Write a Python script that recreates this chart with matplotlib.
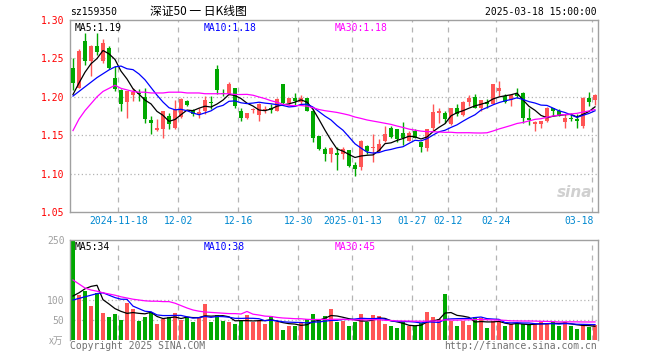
import numpy as np
import matplotlib.pyplot as plt

# daily candles 2024-11-06 .. 2025-03-18 (88 trading days)
opens = [1.237, 1.212, 1.2726, 1.2466, 1.2661, 1.2466, 1.2639, 1.2249, 1.2085, 1.1937,
         1.2024, 1.205, 1.2003, 1.1695, 1.1565, 1.158, 1.175, 1.160, 1.174, 1.1946,
         1.1825, 1.178, 1.181, 1.1937, 1.2358, 1.205, 1.203, 1.211, 1.1816, 1.172,
         1.1829, 1.1764, 1.1834, 1.186, 1.1816, 1.2163, 1.1925, 1.198, 1.1937, 1.198,
         1.1816, 1.1487, 1.1323, 1.1254, 1.1267, 1.1254, 1.1305, 1.1115, 1.108, 1.1362,
         1.1335, 1.1288, 1.1418, 1.1591, 1.1578, 1.1535, 1.1427, 1.1557, 1.1405, 1.1331,
         1.1591, 1.179, 1.1795, 1.1643, 1.1851, 1.1764, 1.1937, 1.1998, 1.186, 1.1937,
         1.1912, 1.2076, 1.2011, 1.1955, 1.2033, 1.205, 1.1721, 1.1643, 1.1643, 1.1686,
         1.1851, 1.181, 1.1678, 1.173, 1.1708, 1.1621, 1.198, 1.1955]
highs = [1.251, 1.262, 1.283, 1.268, 1.283, 1.275, 1.266, 1.240, 1.210, 1.208,
         1.212, 1.210, 1.211, 1.175, 1.171, 1.182, 1.179, 1.1955, 1.198, 1.1955,
         1.184, 1.186, 1.201, 1.201, 1.242, 1.210, 1.219, 1.212, 1.186, 1.179,
         1.186, 1.192, 1.188, 1.190, 1.198, 1.2163, 1.199, 1.205, 1.202, 1.198,
         1.184, 1.1487, 1.134, 1.134, 1.134, 1.134, 1.131, 1.1145, 1.1435, 1.137,
         1.1513, 1.1448, 1.162, 1.162, 1.1578, 1.1678, 1.1557, 1.158, 1.141, 1.158,
         1.1903, 1.185, 1.181, 1.1851, 1.190, 1.1946, 1.2024, 1.2033, 1.196, 1.197,
         1.2163, 1.2206, 1.204, 1.203, 1.211, 1.2067, 1.185, 1.169, 1.169, 1.187,
         1.186, 1.184, 1.177, 1.179, 1.177, 1.200, 1.2067, 1.204]
lows = [1.209, 1.211, 1.242, 1.227, 1.255, 1.244, 1.236, 1.208, 1.182, 1.172,
        1.195, 1.194, 1.1665, 1.152, 1.1557, 1.146, 1.158, 1.158, 1.173, 1.188,
        1.175, 1.172, 1.178, 1.184, 1.204, 1.201, 1.202, 1.185, 1.168, 1.171,
        1.179, 1.168, 1.179, 1.179, 1.181, 1.190, 1.191, 1.1895, 1.190, 1.181,
        1.1405, 1.131, 1.117, 1.1145, 1.1045, 1.119, 1.109, 1.0972, 1.1045, 1.125,
        1.1145, 1.1275, 1.1405, 1.147, 1.1405, 1.137, 1.142, 1.146, 1.128, 1.129,
        1.1557, 1.1665, 1.1665, 1.163, 1.175, 1.175, 1.188, 1.185, 1.1816, 1.185,
        1.190, 1.2011, 1.192, 1.188, 1.199, 1.1665, 1.163, 1.155, 1.160, 1.1678,
        1.1751, 1.175, 1.159, 1.168, 1.159, 1.160, 1.188, 1.1894]
closes = [1.218, 1.2596, 1.2466, 1.2661, 1.2587, 1.2704, 1.2379, 1.2098, 1.1903, 1.2076,
          1.2067, 1.203, 1.1708, 1.1656, 1.159, 1.181, 1.164, 1.1825, 1.197, 1.189,
          1.1773, 1.180, 1.1955, 1.1916, 1.2085, 1.203, 1.217, 1.188, 1.172, 1.1786,
          1.1842, 1.1911, 1.1838, 1.183, 1.1968, 1.1925, 1.198, 1.195, 1.198, 1.1816,
          1.1461, 1.1318, 1.1254, 1.133, 1.1241, 1.1318, 1.1102, 1.1059, 1.1427, 1.1288,
          1.134, 1.1383, 1.1513, 1.1478, 1.1448, 1.1461, 1.1535, 1.147, 1.134, 1.1578,
          1.1808, 1.1816, 1.1708, 1.1851, 1.1782, 1.1937, 1.198, 1.186, 1.1955, 1.190,
          1.2163, 1.2111, 1.1937, 1.2020, 1.2007, 1.1721, 1.1695, 1.1678, 1.1686, 1.186,
          1.1816, 1.1751, 1.1721, 1.171, 1.1686, 1.1989, 1.1937, 1.2024]
# volume in 10k units
volumes = [248, 112, 122, 84, 118, 68, 58, 64, 50, 93,
           78, 48, 58, 70, 40, 52, 58, 68, 50, 58,
           46, 58, 90, 46, 62, 48, 44, 40, 48, 62,
           44, 48, 40, 60, 44, 25, 35, 35, 44, 52,
           64, 52, 60, 78, 46, 48, 34, 46, 64, 44,
           62, 60, 40, 35, 30, 44, 35, 34, 42, 70,
           58, 52, 115, 48, 35, 48, 37, 57, 54, 30,
           48, 44, 35, 40, 40, 40, 37, 40, 46, 40,
           46, 35, 46, 35, 28, 38, 33, 38]

ma5_head = [1.203, 1.218, 1.232, 1.243]
ma10_head = [1.201, 1.207, 1.213, 1.219, 1.225, 1.230, 1.235, 1.239, 1.240]
ma30_head = [1.156, 1.171, 1.182, 1.191, 1.200, 1.207, 1.211, 1.215, 1.211, 1.209,
             1.207, 1.206, 1.206, 1.205, 1.205, 1.205, 1.206, 1.206, 1.206, 1.205,
             1.205, 1.205, 1.204, 1.204, 1.204, 1.204, 1.204, 1.203, 1.203]
vma5_head = [110, 118, 128, 134]
vma10_head = [100, 104, 108, 112, 116, 118, 112, 106, 102]
vma30_head = [150, 140, 130, 125, 122, 118, 115, 112, 108, 105,
              102, 100, 98, 97, 97, 96, 96, 92, 86, 80,
              75, 72, 70, 69, 68, 67, 66, 66, 65]

tick_labels = ["2024-11-18", "12-02", "12-16", "12-30", "2025-01-13",
               "01-27", "02-12", "02-24", "03-18"]
tick_idx = [8, 18, 28, 38, 47, 57, 63, 71, 87]


def moving_avg(vals, n, head):
    out = list(head)
    for i in range(len(head), len(vals)):
        out.append(np.mean(vals[i - n + 1:i + 1]))
    return np.array(out)


RED = "#FF5555"
GREEN = "#00A800"
MONO = "DejaVu Sans Mono"
CJK = ["Noto Sans CJK SC", "DejaVu Sans"]

x = np.arange(len(closes))
o, h, l, c = map(np.array, (opens, highs, lows, closes))
up = c >= o
colors = np.where(up, RED, GREEN)

fig = plt.figure(figsize=(6.6, 3.6), dpi=100)
ax = fig.add_axes([70 / 660, 1 - 212 / 360, 528 / 660, 192 / 360])
vax = fig.add_axes([70 / 660, 1 - 340 / 360, 528 / 660, 100 / 360])

for a in (ax, vax):
    a.set_xlim(-0.5, len(x) - 0.5)
    for s in a.spines.values():
        s.set_color("#A0A0A0")
        s.set_linewidth(1.0)
    a.tick_params(length=0)
    a.set_xticks([])
    for t in tick_idx:
        a.axvline(t - 0.45, color="#B4B4B4", lw=0.9, ls=(0, (4, 4)), zorder=0)
vax.spines["bottom"].set_visible(False)

# price panel
ax.set_ylim(1.05, 1.30)
ax.set_yticks([1.05, 1.10, 1.15, 1.20, 1.25, 1.30])
ax.set_yticklabels(["1.05", "1.10", "1.15", "1.20", "1.25", "1.30"],
                   color="red", fontsize=7, family=MONO)
ax.tick_params(axis="y", pad=4)
for yv in [1.10, 1.15, 1.20, 1.25]:
    ax.axhline(yv, color="#B4B4B4", lw=0.9, ls=(0, (1, 2)), zorder=0)

ax.vlines(x, l, h, colors=colors, lw=1.0, zorder=2)
body = np.maximum(np.abs(c - o), 0.0009)
ax.bar(x, body, bottom=np.minimum(o, c), width=0.78, color=colors, lw=0, zorder=3)

ma5 = moving_avg(closes, 5, ma5_head)
ma10 = moving_avg(closes, 10, ma10_head)
ma30 = moving_avg(closes, 30, ma30_head)
ax.plot(x, ma5, color="black", lw=0.9, zorder=4)
ax.plot(x, ma10, color="blue", lw=0.9, zorder=4)
ax.plot(x, ma30, color="#FF00FF", lw=0.9, zorder=4)

ax.text(5 / 528, 0.985, f"MA5:{ma5[-1]:.2f}", transform=ax.transAxes, ha="left", va="top",
        fontsize=7, family=MONO, color="black")
ax.text(134 / 528, 0.985, f"MA10:{ma10[-1]:.2f}", transform=ax.transAxes, ha="left", va="top",
        fontsize=7, family=MONO, color="blue")
ax.text(265 / 528, 0.985, f"MA30:{ma30[-1]:.2f}", transform=ax.transAxes, ha="left", va="top",
        fontsize=7, family=MONO, color="#FF00FF")
ax.text(0.99, 0.06, "sina", transform=ax.transAxes, ha="right", va="bottom",
        fontsize=11, style="italic", weight="bold", color="#D0D0D0", zorder=1)

for t, lab in zip(tick_idx, tick_labels):
    ha = "right" if t == tick_idx[-1] else "center"
    xx = t - 0.2 if ha == "right" else t - 0.45
    ax.text(xx, 1.05 - 0.0115, lab, ha=ha, va="center", fontsize=7, family=MONO,
            color="#0088D0")

# volume panel
vax.set_ylim(0, 250)
vax.set_yticks([50, 100, 250])
vax.set_yticklabels(["50", "100", "250"], color="#A0A0A0", fontsize=7, family=MONO)
vax.tick_params(axis="y", pad=4)
for yv in [50, 100]:
    vax.axhline(yv, color="#B4B4B4", lw=0.9, ls=(0, (1, 2)), zorder=0)
vax.bar(x, volumes, width=0.78, color=colors, lw=0, zorder=2)
vma5 = moving_avg(volumes, 5, vma5_head)
vma10 = moving_avg(volumes, 10, vma10_head)
vma30 = moving_avg(volumes, 30, vma30_head)
vax.plot(x, vma5, color="black", lw=0.9, zorder=4)
vax.plot(x, vma10, color="blue", lw=0.9, zorder=4)
vax.plot(x, vma30, color="#FF00FF", lw=0.9, zorder=4)
vax.text(5 / 528, 0.985, f"MA5:{vma5[-1]:.0f}", transform=vax.transAxes, ha="left", va="top",
         fontsize=7, family=MONO, color="black", zorder=5)
vax.text(134 / 528, 0.985, f"MA10:{vma10[-1]:.0f}", transform=vax.transAxes, ha="left", va="top",
         fontsize=7, family=MONO, color="blue", zorder=5)
vax.text(265 / 528, 0.985, f"MA30:{vma30[-1]:.0f}", transform=vax.transAxes, ha="left", va="top",
         fontsize=7, family=MONO, color="#FF00FF", zorder=5)

# header and footer
fig.text(70 / 660, 1 - 12 / 360, "sz159350", ha="left", va="center", fontsize=7, family=MONO)
fig.text(150 / 660, 1 - 12 / 360, "深证50 一 日K线图", ha="left", va="center", fontsize=8.5,
         family=CJK)
fig.text(597 / 660, 1 - 12 / 360, "2025-03-18 15:00:00", ha="right", va="center", fontsize=7,
         family=MONO)
fig.text(63 / 660, 1 - 341 / 360, "x万", ha="right", va="center", fontsize=7, family=CJK,
         color="#A0A0A0")
fig.text(70 / 660, 1 - 346 / 360, "Copyright 2025 SINA.COM", ha="left", va="center", fontsize=7,
         family=MONO, color="#707070")
fig.text(597 / 660, 1 - 346 / 360, "http://finance.sina.com.cn", ha="right", va="center",
         fontsize=7, family=MONO, color="#707070")

fig.savefig("out.png", dpi=100)
